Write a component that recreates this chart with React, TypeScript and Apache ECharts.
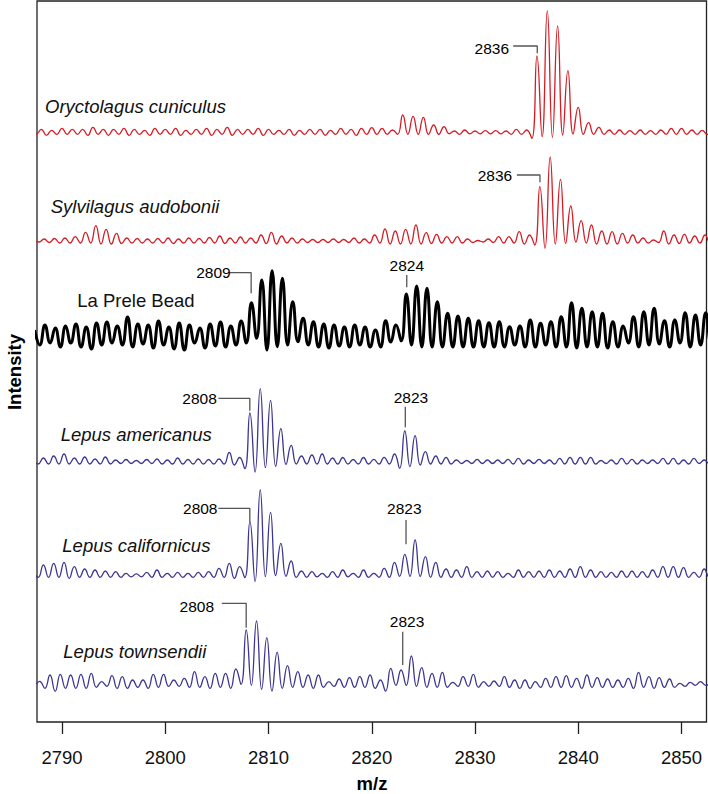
import React, { useEffect, useRef } from "react";
import * as echarts from "echarts";

// m/z positions of local maxima (integer masses) and minima (half masses)
const PEAK_MZ = [2787, 2788, 2789, 2790, 2791, 2792, 2793, 2794, 2795, 2796, 2797, 2798, 2799, 2800, 2801, 2802, 2803, 2804, 2805, 2806, 2807, 2808, 2809, 2810, 2811, 2812, 2813, 2814, 2815, 2816, 2817, 2818, 2819, 2820, 2821, 2822, 2823, 2824, 2825, 2826, 2827, 2828, 2829, 2830, 2831, 2832, 2833, 2834, 2835, 2836, 2837, 2838, 2839, 2840, 2841, 2842, 2843, 2844, 2845, 2846, 2847, 2848, 2849, 2850, 2851, 2852, 2853];
const TROUGH_MZ = [2787.5, 2788.5, 2789.5, 2790.5, 2791.5, 2792.5, 2793.5, 2794.5, 2795.5, 2796.5, 2797.5, 2798.5, 2799.5, 2800.5, 2801.5, 2802.5, 2803.5, 2804.5, 2805.5, 2806.5, 2807.5, 2808.5, 2809.5, 2810.5, 2811.5, 2812.5, 2813.5, 2814.5, 2815.5, 2816.5, 2817.5, 2818.5, 2819.5, 2820.5, 2821.5, 2822.5, 2823.5, 2824.5, 2825.5, 2826.5, 2827.5, 2828.5, 2829.5, 2830.5, 2831.5, 2832.5, 2833.5, 2834.5, 2835.5, 2836.5, 2837.5, 2838.5, 2839.5, 2840.5, 2841.5, 2842.5, 2843.5, 2844.5, 2845.5, 2846.5, 2847.5, 2848.5, 2849.5, 2850.5, 2851.5, 2852.5];

const X_TICKS = [2790, 2800, 2810, 2820, 2830, 2840, 2850];

// Oryctolagus cuniculus
const ORYCT_PEAKS = [2, 3, 2, 4, 3, 3, 5, 3, 3, 4, 3, 2, 4, 3, 4, 2, 3, 4, 3, 5, 3, 3, 4, 3, 2, 3, 2, 3, 3, 2, 4, 3, 4, 4.7, 4, 2.3, 17.3, 16, 15, 7.3, 5.7, 1.3, 2.3, 1.3, 1.7, 1.7, 1.3, 3, 2.3, 76.3, 121.7, 106.3, 61.7, 25, 9.7, 5, 2.3, 2.3, 1.7, 2.3, 1.7, 2.3, 4, 4, 2.3, 2, 2];
const ORYCT_TROUGHS = [-2, -3, -2, -2, -2, -3, -2, -3, -2, -3, -2, -3, -2, -2, -3, -2, -2, -3, -2, -3, -2, -2, -3, -2, -2, -3, -2, -2, -3, -2, -2, -3, -2, -2, -2, -2, -2, -2, -2, -2, -1.5, -2, -1.5, -1.5, -1.5, -1.5, -2, -2, -6, -4.3, -5, -2.7, -1.7, -2, -2, -2, -2, -2, -2, -2, -2, -2, -2, -2, -2, -2];

// Sylvilagus audobonii
const SYLV_PEAKS = [1, 2, 2.5, 3, 4.3, 8.7, 15.3, 11.7, 7.7, 3, 2.5, 2, 2.5, 3, 2, 3, 2.5, 3.5, 5, 3, 4, 3, 6, 8.7, 5, 3, 2, 1.5, 1.5, 2, 1.5, 3, 2, 6, 12, 10, 11.7, 16, 8.3, 6.7, 4.3, 4.3, 2, 0.5, 2, 4.3, 4.3, 9.3, 6, 54.3, 84, 61.7, 35, 20.3, 16, 10, 9.3, 7.7, 6, 3, 1, 10, 6, 6.7, 5, 6, 4];
const SYLV_TROUGHS = [-1, -1.5, -2, -2, -2, -2, -3, -3, -2.5, -2, -2, -2, -2, -2.5, -2, -2, -2, -2, -2.5, -2, -2, -2, -2.5, -3, -2, -2, -1.5, -1.5, -1.5, -1.5, -1.5, -2, -2, -2, -3, -3, -3, -3, -2.5, -2, -2, -2, -1.5, -1, -1.5, -2, -2, -3, -4, -7.3, -3, -2.3, -1, -2, -3, -3, -3, -2, -2, -2, -1.5, -3, -2.5, -2, -2, -2];

// La Prele Bead
const BEAD_PEAKS = [5, 10, 7, 9, 11, 8, 12, 13, 9, 18, 11, 10, 14, 8, 12, 10, 7, 11, 13, 9, 14, 32.3, 55, 64.3, 56.7, 33.3, 16.7, 13.3, 11, 10, 8, 10, 8, 5, 14.3, 10, 41, 49, 46.7, 33.3, 21.7, 19, 16.7, 14.3, 12.3, 13.3, 8.3, 9, 15, 11.7, 13.3, 18.3, 32.3, 26.7, 23.3, 21.7, 13.3, 9, 18.3, 23.3, 26.7, 14.3, 15, 22.3, 20, 22.3, 15];
const BEAD_TROUGHS = [-10, -8, -12, -8, -12, -14, -10, -8, -10, -12, -9, -13, -10, -14, -15, -8, -13, -11, -12, -10, -8, -3.3, -15, -11.7, -10, -6.7, -10, -12, -13, -11, -12, -10, -12, -12, -7, -6, -10, -12, -12, -12, -12, -12, -12, -12, -12, -12, -10, -12, -12, -10, -12, -12, -13, -12, -12, -13, -12, -8, -12, -10, -9, -12, -8, -12, -10, -8];

// Lepus americanus
const AMER_PEAKS = [2, 3, 5, 7, 3, 4, 2, 4, 1, 1.5, 0.5, 1.5, 2, 1, 3, 1.5, 2, 1.5, 2, 8.5, 3.5, 48, 72.3, 60.7, 32.3, 15.7, 5, 6, 7, 3, 3.5, 1.5, 3.5, 1.7, 3.7, 7, 30, 25.3, 9.3, 5, 3.7, 1, 0.5, 1.7, 1, 1, 1.7, 2.7, 1, 1.7, 1, 2.7, 3.7, 3.7, 3.7, 0.5, 1, 2.7, 1.7, 1, 1, 2.7, 2.7, 1, 2.7, 1, 1.5];
const AMER_TROUGHS = [-3, -3, -3, -3, -3, -3, -3, -3, -2.5, -2.5, -2.5, -2.5, -3, -3, -3, -3, -3, -3, -3, -4, -7.7, -11, -6.7, -5.3, -3.3, -3, -3, -3, -3, -3, -3, -3, -3, -3, -3, -7.3, -5.7, -4, -3, -3, -3, -2.5, -2.5, -2.5, -2.5, -2.5, -3, -3, -2.5, -2.5, -3, -3, -3, -3, -3, -2.5, -3, -3, -3, -2.5, -2.5, -3, -3, -3, -2.5, -2.5];

// Lepus californicus
const CALIF_PEAKS = [3, 9.3, 11, 12, 7.7, 5.3, 4.3, 3.3, 2.7, 1, 0.5, 2, 4.3, 1, 2, 1, 2, 2.7, 6, 11, 7.7, 52.7, 84.3, 62, 31, 13.3, 3.3, 2.7, 1, 2.7, 4.3, 1, 4.3, 1, 6, 12, 20, 34.3, 17.7, 12, 5.3, 4.3, 7.7, 2.7, 3.3, 2.7, 1, 4.3, 2.7, 3.3, 4.3, 3.3, 5.3, 7.7, 4.3, 2.7, 2, 3.3, 3.3, 2.7, 4.3, 7.7, 7.7, 6.7, 2, 5.3, 3];
const CALIF_TROUGHS = [-3, -3, -3, -4, -3, -3, -3, -3, -3, -2.5, -2.5, -3, -3, -3, -3, -3, -3, -3, -3, -4, -3.3, -7.3, -2.3, -1.3, -2, -3, -3, -2.5, -3, -3, -2.5, -3, -3, -3, -3, -2, -2, -2, -3, -3, -3, -3, -3, -3, -3, -3, -3, -3, -3, -3, -3, -3, -3, -3, -3, -3, -3, -3, -3, -3, -3, -3, -3, -3, -3, -3];

// Lepus townsendii
const TOWN_PEAKS = [0, 2, 8.3, 9, 8.3, 9, 10, 1.7, 7.7, 6.7, 3.3, 3.3, 9, 9, 3.3, 5, 11.7, 6.7, 10, 10, 14.3, 53.3, 62.3, 45.7, 31, 17.7, 11.7, 8.3, 8.3, 1.7, 4.3, 5.7, 6.7, 8.3, 3.3, 15, 13.3, 27.3, 15.7, 10, 11, 1, 6.7, 9, 1.7, 2.3, 6.7, 3.3, 3.3, 1.7, 5, 6.7, 7.7, 5, 8.3, 5.7, 4.3, 3.3, 5, 11, 6.7, 5.7, 4.3, 0, 1, 1.7, 1];
const TOWN_TROUGHS = [-1, -5, -8, -5, -5, -5, -4, -3, -5, -5, -4, -5, -4, -3, -3, -4, -4, -5, -4, -5, -1, -2, -6, -7.7, -5, -4, -4, -5, -4, -3, -4, -4, -4, -5, -7.7, -2, -2, -3, -4, -4, -4, -3, -3, -4, -3, -3, -4, -5, -5, -4, -4, -4, -4, -5, -4, -4, -4, -4, -5, -4, -5, -4, -4, -3, -2, -2];

const RED = "#d41c24";
const BLUE = "#3d3592";
const FONT = "Liberation Sans";

const SPECTRA = [
  { name: "Oryctolagus cuniculus", peaks: ORYCT_PEAKS, troughs: ORYCT_TROUGHS, shift: 0.0, offset: 589.7, color: RED, width: 1.3 },
  { name: "Sylvilagus audobonii", peaks: SYLV_PEAKS, troughs: SYLV_TROUGHS, shift: 0.28, offset: 481, color: RED, width: 1.3 },
  { name: "La Prele Bead", peaks: BEAD_PEAKS, troughs: BEAD_TROUGHS, shift: 0.35, offset: 387, color: "#000000", width: 3 },
  { name: "Lepus americanus", peaks: AMER_PEAKS, troughs: AMER_TROUGHS, shift: 0.2, offset: 261, color: BLUE, width: 1.3 },
  { name: "Lepus californicus", peaks: CALIF_PEAKS, troughs: CALIF_TROUGHS, shift: 0.2, offset: 147.7, color: BLUE, width: 1.3 },
  { name: "Lepus townsendii", peaks: TOWN_PEAKS, troughs: TOWN_TROUGHS, shift: -0.16, offset: 38.7, color: BLUE, width: 1.3 },
];

const SPECIES_LABELS = [
  { text: "Oryctolagus cuniculus", x: 45, y: 106.7, italic: true },
  { text: "Sylvilagus audobonii", x: 50.7, y: 206.7, italic: true },
  { text: "La Prele Bead", x: 77.3, y: 300, italic: false },
  { text: "Lepus americanus", x: 60.7, y: 434.3, italic: true },
  { text: "Lepus californicus", x: 62.3, y: 545, italic: true },
  { text: "Lepus townsendii", x: 63.3, y: 651.7, italic: true },
];

const ANNOTATIONS = [
  { text: "2836", at: [2831.63, 674], path: [[2833.7, 676], [2836.03, 676], [2836.03, 668.7]] },
  { text: "2836", at: [2831.93, 546.3], path: [[2834.06, 547], [2836.29, 547], [2836.29, 539.7]] },
  { text: "2809", at: [2804.67, 449.3], path: [[2806.19, 449.3], [2808.32, 449.3], [2808.32, 428.7]] },
  { text: "2824", at: [2823.39, 457], path: [[2823.39, 447], [2823.39, 434.7]] },
  { text: "2808", at: [2803.32, 323.7], path: [[2805.15, 323.7], [2808.19, 323.7], [2808.19, 311.3]] },
  { text: "2823", at: [2823.8, 324.7], path: [[2823.25, 315.3], [2823.25, 294.7]] },
  { text: "2808", at: [2803.39, 213.7], path: [[2805.15, 213.7], [2808.19, 213.7], [2808.19, 200.3]] },
  { text: "2823", at: [2823.15, 213.7], path: [[2823.32, 202], [2823.32, 177.7]] },
  { text: "2808", at: [2803.06, 115.3], path: [[2805.48, 118.7], [2807.84, 118.7], [2807.84, 94.3]] },
  { text: "2823", at: [2823.42, 100.3], path: [[2823.0, 90.3], [2823.0, 57]] },
];

function buildTrace(peaks: number[], troughs: number[], shift: number, offset: number) {
  const pts: number[][] = [];
  for (let i = 0; i < PEAK_MZ.length; i++) {
    pts.push([PEAK_MZ[i] + shift, offset + peaks[i]]);
    if (i < TROUGH_MZ.length) pts.push([TROUGH_MZ[i] + shift, offset + troughs[i]]);
  }
  return pts;
}

export default function App() {
  const ref = useRef<HTMLDivElement>(null);
  useEffect(() => {
    if (!ref.current) return;
    const chart = echarts.init(ref.current, undefined, { renderer: "svg" });
    const series: any[] = [];
    SPECTRA.forEach((s) => {
      series.push({
        type: "line",
        name: s.name,
        data: buildTrace(s.peaks, s.troughs, s.shift, s.offset),
        showSymbol: false,
        symbol: "none",
        smooth: 0.5,
        silent: true,
        lineStyle: { color: s.color, width: s.width, join: "round" },
        z: 3,
      });
    });
    ANNOTATIONS.forEach((a) => {
      series.push({
        type: "line",
        data: a.path,
        showSymbol: false,
        symbol: "none",
        silent: true,
        lineStyle: { color: "#555555", width: 1.3 },
        z: 4,
      });
      series.push({
        type: "scatter",
        data: [a.at],
        symbolSize: 0,
        silent: true,
        itemStyle: { color: "#000000", opacity: 1 },
        label: {
          show: true,
          position: "inside",
          formatter: a.text,
          color: "#000000",
          opacity: 1,
          textBorderWidth: 0,
          textBorderColor: "transparent",
          fontSize: 15.5,
          fontFamily: FONT,
        },
        z: 5,
      });
    });

    const graphic: any[] = SPECIES_LABELS.map((l) => ({
      type: "text",
      x: l.x,
      y: l.y,
      silent: true,
      style: {
        text: l.text,
        fill: "#111111",
        fontSize: 18.5,
        fontFamily: FONT,
        fontStyle: l.italic ? "italic" : "normal",
        align: "left",
        verticalAlign: "middle",
        textAlign: "left",
        textVerticalAlign: "middle",
      },
    }));
    graphic.push({
      type: "text",
      x: 14,
      y: 372,
      rotation: Math.PI / 2,
      silent: true,
      style: {
        text: "Intensity",
        fill: "#000000",
        fontSize: 18.5,
        fontWeight: "bold",
        fontFamily: FONT,
        align: "center",
        verticalAlign: "middle",
        textAlign: "center",
        textVerticalAlign: "middle",
      },
    });
    graphic.push({
      type: "text",
      x: 372,
      y: 783,
      silent: true,
      style: {
        text: "m/z",
        fill: "#000000",
        fontSize: 18.5,
        fontWeight: "bold",
        fontFamily: FONT,
        align: "center",
        verticalAlign: "middle",
        textAlign: "center",
        textVerticalAlign: "middle",
      },
    });

    chart.setOption({
      animation: false,
      backgroundColor: "#ffffff",
      grid: {
        left: 37,
        right: 1.5,
        top: 1,
        bottom: 72,
        show: true,
        borderColor: "#222222",
        borderWidth: 1.3,
        backgroundColor: "transparent",
        containLabel: false,
        outerBoundsMode: "none",
      },
      xAxis: {
        type: "value",
        min: 2787.58,
        max: 2852.42,
        axisLine: { show: false },
        splitLine: { show: false },
        axisTick: {
          show: true,
          customValues: X_TICKS,
          length: 12,
          lineStyle: { color: "#222222", width: 1.3 },
        },
        axisLabel: {
          show: true,
          customValues: X_TICKS,
          margin: 26,
          fontSize: 18.5,
          fontFamily: FONT,
          color: "#111111",
          formatter: (v: number) => String(v),
        },
      },
      yAxis: {
        type: "value",
        min: 0,
        max: 721,
        axisLine: { show: false },
        axisTick: { show: false },
        axisLabel: { show: false },
        splitLine: { show: false },
      },
      graphic,
      series,
    });
    return () => chart.dispose();
  }, []);
  return <div ref={ref} style={{ width: 708, height: 794, position: "absolute", left: 0, top: 0 }} />;
}
